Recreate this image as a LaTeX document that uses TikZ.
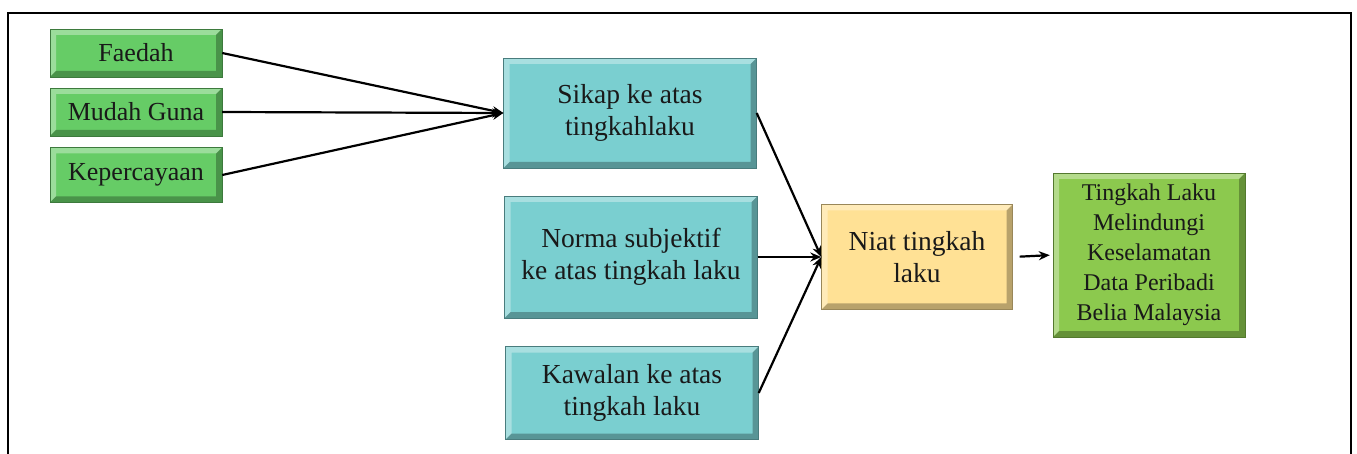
\documentclass[tikz,border=0pt]{standalone}
\usepackage{fontspec}
\setmainfont{Liberation Serif}
\definecolor{ltgreen}{HTML}{66CC66}
\definecolor{tealfill}{HTML}{7ACFD0}
\definecolor{sand}{HTML}{FFE195}
\definecolor{lime}{HTML}{8CC94E}
\usetikzlibrary{arrows.meta, positioning, calc}
\tikzset{
  bevel/.style={path picture={
    \fill[white, opacity=.35] (path picture bounding box.south west) -- (path picture bounding box.north west)
      -- (path picture bounding box.north east) -- ([shift={(-#1,-#1)}]path picture bounding box.north east)
      -- ([shift={(#1,-#1)}]path picture bounding box.north west) -- ([shift={(#1,#1)}]path picture bounding box.south west) -- cycle;
    \fill[black, opacity=.28] (path picture bounding box.south west) -- (path picture bounding box.south east)
      -- (path picture bounding box.north east) -- ([shift={(-#1,-#1)}]path picture bounding box.north east)
      -- ([shift={(-#1,#1)}]path picture bounding box.south east) -- ([shift={(#1,#1)}]path picture bounding box.south west) -- cycle;
  }},
}

\begin{document}
\begin{tikzpicture}[x=1pt, y=-1pt,
  box/.style={bevel=6pt, inner sep=2pt, align=center, text=black!90, draw=#1!60!black, line width=.4pt, fill=#1},
  small/.style={box=ltgreen, minimum width=172pt, font=\fontsize{26}{30}\selectfont},
  mid/.style={box=tealfill, minimum width=253pt, font=\fontsize{27.5}{32}\selectfont},
  link/.style={-{Stealth[length=11pt, width=9pt]}, line width=2.2pt},
]
  \useasboundingbox (0,0) rectangle (1357,454);
  \draw[line width=2.6pt] (8,454) -- (8,13) -- (1351,13) -- (1351,454);

  \node[small, minimum height=48pt] (fae) at (136,53) {Faedah};
  \node[small, minimum height=48pt] (mudah) at (136,112) {Mudah Guna};
  \node[small, minimum height=55pt] (kep) at (136,175) {Kepercayaan};

  \node[mid, minimum height=110pt] (sikap) at (630,113) {Sikap ke atas\\tingkahlaku};
  \node[mid, minimum height=122pt] (norma) at (631,257) {Norma subjektif\\ke atas tingkah laku};
  \node[mid, minimum height=93pt] (kawal) at (632,393) {Kawalan ke atas\\tingkah laku};

  \node[box=sand, minimum width=191pt, minimum height=105pt, font=\fontsize{27.5}{32}\selectfont] (niat) at (917,257) {Niat tingkah\\laku};
  \node[box=lime, minimum width=192pt, minimum height=164pt, font=\fontsize{24}{30}\selectfont] (hasil) at (1149,255)
    {Tingkah Laku\\Melindungi\\Keselamatan\\Data Peribadi\\Belia Malaysia};

  \draw[link] (fae.east) -- (sikap.west);
  \draw[link] (mudah.east) -- (sikap.west);
  \draw[link] (kep.east) -- (sikap.west);
  \draw[link] (sikap.east) -- (niat.west);
  \draw[link] (norma.east) -- (niat.west);
  \draw[link] (kawal.east) -- (niat.west);
  \draw[link, shorten <=7pt, shorten >=3pt] (niat.east) -- (hasil.west);
\end{tikzpicture}
\end{document}
